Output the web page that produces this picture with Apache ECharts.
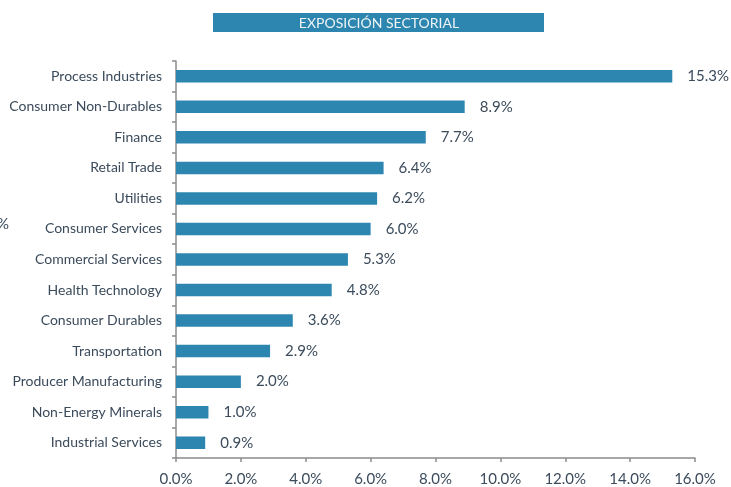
<!DOCTYPE html>
<html>
<head>
<meta charset="utf-8">
<script src="https://cdn.jsdelivr.net/npm/echarts@6/dist/echarts.min.js"></script>
<style>
  html, body { margin: 0; padding: 0; background: #ffffff; }
  #chart { width: 731px; height: 487px; }
</style>
</head>
<body>
<div id="chart"></div>
<script>
// Sector exposure (% of portfolio), listed top to bottom
const sectors = [
  'Process Industries', 'Consumer Non-Durables', 'Finance', 'Retail Trade',
  'Utilities', 'Consumer Services', 'Commercial Services', 'Health Technology',
  'Consumer Durables', 'Transportation', 'Producer Manufacturing',
  'Non-Energy Minerals', 'Industrial Services'
];
const weights = [15.3, 8.9, 7.7, 6.4, 6.2, 6.0, 5.3, 4.8, 3.6, 2.9, 2.0, 1.0, 0.9];
const title = 'EXPOSICIÓN SECTORIAL';

const FONT = 'Lato, "Open Sans", sans-serif';
const TEXT = '#3b4b5b';
const BLUE = '#2c86b0';

const chart = echarts.init(document.getElementById('chart'));
chart.setOption({
  animation: false,
  graphic: [
    {
      type: 'rect',
      shape: { x: 213, y: 13, width: 331, height: 19 },
      style: { fill: BLUE }
    },
    {
      type: 'text',
      x: 379, y: 23,
      style: {
        text: title, fill: '#eef3f6', font: '14px ' + FONT,
        align: 'center', verticalAlign: 'middle'
      }
    },
    {
      type: 'text',
      x: -3, y: 224,
      style: {
        text: '%', fill: TEXT, font: '15px ' + FONT,
        align: 'left', verticalAlign: 'middle'
      }
    }
  ],
  grid: { left: 176, right: 36, top: 61, bottom: 23, containLabel: false },
  xAxis: {
    type: 'value',
    min: 0, max: 16, interval: 2,
    axisLine: { show: true, lineStyle: { color: '#8c8c8c', width: 1.5 } },
    axisTick: { show: true, length: 4, lineStyle: { color: '#8c8c8c', width: 1.5 } },
    splitLine: { show: false },
    axisLabel: {
      color: TEXT, fontFamily: FONT, fontSize: 15, margin: 14,
      formatter: v => v.toFixed(1) + '%'
    }
  },
  yAxis: {
    type: 'category',
    data: sectors,
    inverse: true,
    axisLine: { show: true, lineStyle: { color: '#8c8c8c', width: 1.5 } },
    axisTick: { show: true, length: 4, alignWithLabel: false, lineStyle: { color: '#8c8c8c', width: 1.5 } },
    axisLabel: { color: TEXT, fontFamily: FONT, fontSize: 14, margin: 14, padding: [0, 0, 4, 0] }
  },
  series: [{
    type: 'bar',
    data: weights,
    barWidth: 12.5,
    itemStyle: { color: BLUE },
    label: {
      show: true, position: 'right', distance: 15,
      color: TEXT, fontFamily: FONT, fontSize: 15,
      padding: [0, 0, 4, 0],
      formatter: p => p.value.toFixed(1) + '%'
    }
  }]
});
</script>
</body>
</html>
